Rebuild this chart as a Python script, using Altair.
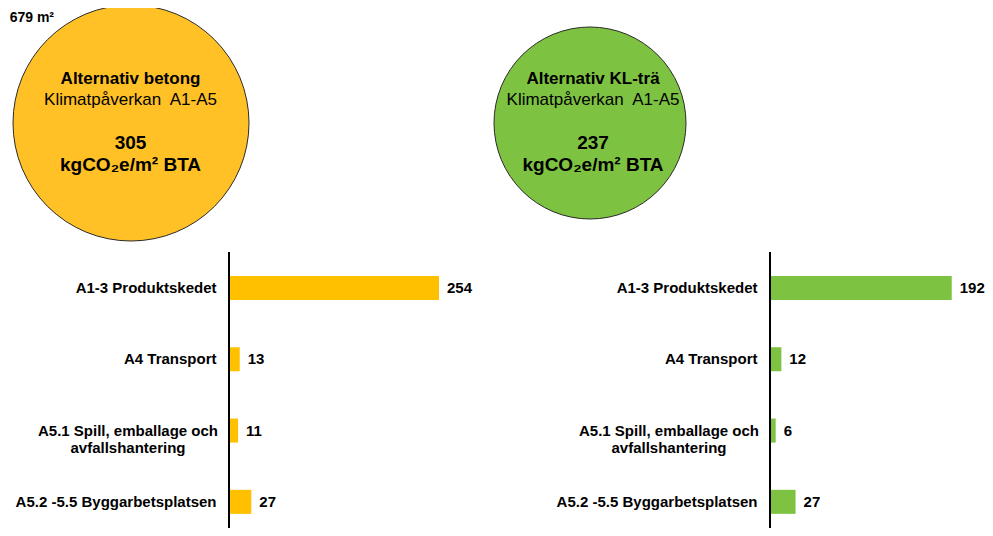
import altair as alt
import pandas as pd

# ---------------- data ----------------
alternatives = ["Alternativ betong", "Alternativ KL-trä"]
totals = [305, 237]
stages = [
    "A1-3 Produktskedet",
    "A4 Transport",
    "A5.1 Spill, emballage och\navfallshantering",
    "A5.2 -5.5 Byggarbetsplatsen",
]
betong_values = [254, 13, 11, 27]
kltra_values = [192, 12, 6, 27]
subtitle = "Klimatpåverkan\u00a0 A1-A5"
unit_label = "kgCO₂e/m² BTA"
corner_label = "679 m²"

# ---------------- styles / layout ----------------
FONT = "Liberation Sans, Arial, sans-serif"
W, H = 977, 520
ORANGE_BAR = "#FFC000"
ORANGE_CIRCLE = "#FFC125"
GREEN = "#7EC242"
TXT = "#000000"
R_SMALL, R_LARGE = 96, 118  # circle radii in px

circles_df = pd.DataFrame({"option": alternatives, "total": totals})
bars_df = pd.DataFrame({
    "option": [a for a in alternatives for _ in stages],
    "stage": stages * 2,
    "value": betong_values + kltra_values,
})

# ---------------- circles ----------------
circle_x = alt.X("option:N", axis=None,
                 scale=alt.Scale(type="point", domain=alternatives, range=[123, 582], padding=0))
circles = alt.Chart(circles_df).mark_circle(opacity=1, stroke="#2b2b2b", strokeWidth=1).encode(
    x=circle_x,
    y=alt.value(115),
    size=alt.Size("total:Q", legend=None,
                  scale=alt.Scale(domain=[237, 305], range=[(2 * R_SMALL) ** 2, (2 * R_LARGE) ** 2], zero=False)),
    color=alt.Color("option:N", legend=None,
                    scale=alt.Scale(domain=alternatives, range=[ORANGE_CIRCLE, GREEN])),
)

text_x = alt.X("option:N", axis=None,
               scale=alt.Scale(type="point", domain=alternatives, range=[122.5, 585], padding=0))
tbase = alt.Chart(circles_df).encode(x=text_x)
t1 = tbase.mark_text(font=FONT, fontSize=17, fontWeight="bold", color=TXT, baseline="middle").encode(
    y=alt.value(71), text="option:N")
t2 = tbase.mark_text(font=FONT, fontSize=17, color=TXT, baseline="middle", text=subtitle).encode(
    y=alt.value(92))
t3 = tbase.mark_text(font=FONT, fontSize=19, fontWeight="bold", color=TXT, baseline="middle").encode(
    y=alt.value(135), text="total:Q")
t4 = tbase.mark_text(font=FONT, fontSize=19, fontWeight="bold", color=TXT, baseline="middle", text=unit_label).encode(
    y=alt.value(157))
circle_text = alt.layer(t1, t2, t3, t4)

corner = alt.Chart(pd.DataFrame({"t": [corner_label]})).mark_text(
    font=FONT, fontSize=14, fontWeight="bold", color=TXT, align="right", baseline="middle"
).encode(x=alt.value(46), y=alt.value(10), text="t:N")


# ---------------- bar panels ----------------
def bar_group(name, color, px_per_unit, axis_x, dmax):
    sub = alt.Chart(bars_df).transform_filter(alt.datum.option == name)
    xs = alt.Scale(domain=[0, dmax], range=[axis_x, axis_x + px_per_unit * dmax])
    ys = alt.Scale(domain=stages, range=[244.3, 529.5], paddingInner=0.663, paddingOuter=0.3315)
    X = alt.X("value:Q", scale=xs, axis=None)
    Y = alt.Y("stage:N", scale=ys, axis=None)
    bars = sub.mark_bar(color=color).encode(x=X, y=Y)
    values = sub.mark_text(align="left", dx=8, baseline="middle", font=FONT, fontSize=15,
                           fontWeight="bold", color=TXT).encode(x=X, y=Y, text="value:Q")
    labels = sub.transform_filter("indexof(datum.stage, '\\n') < 0").mark_text(
        align="right", dx=-12.5, baseline="middle", font=FONT, fontSize=15, fontWeight="bold", color=TXT
    ).encode(x=alt.datum(0), y=Y, text="stage:N")
    wrapped = sub.transform_filter("indexof(datum.stage, '\\n') >= 0").mark_text(
        align="center", dx=-101, baseline="middle", lineBreak="\n", lineHeight=17,
        font=FONT, fontSize=15, fontWeight="bold", color=TXT
    ).encode(x=alt.datum(0), y=Y, text="stage:N")
    axis_line = sub.mark_rule(color="#000000", strokeWidth=2).encode(
        x=alt.datum(0), y=alt.value(244), y2=alt.value(H))
    return alt.layer(bars, values, labels, wrapped, axis_line)


left = bar_group(alternatives[0], ORANGE_BAR, 210 / 254, 221, 300)
right = bar_group(alternatives[1], GREEN, 189 / 192, 762, 250)

chart = alt.layer(circles, circle_text, corner, left, right).resolve_scale(
    x="independent", y="independent", size="independent", color="independent"
).properties(
    width=W, height=H, autosize=alt.AutoSizeParams(type="none"), padding=0
).configure_view(stroke=None)

chart.save("out.html", embed_options={"renderer": "svg", "actions": False})
